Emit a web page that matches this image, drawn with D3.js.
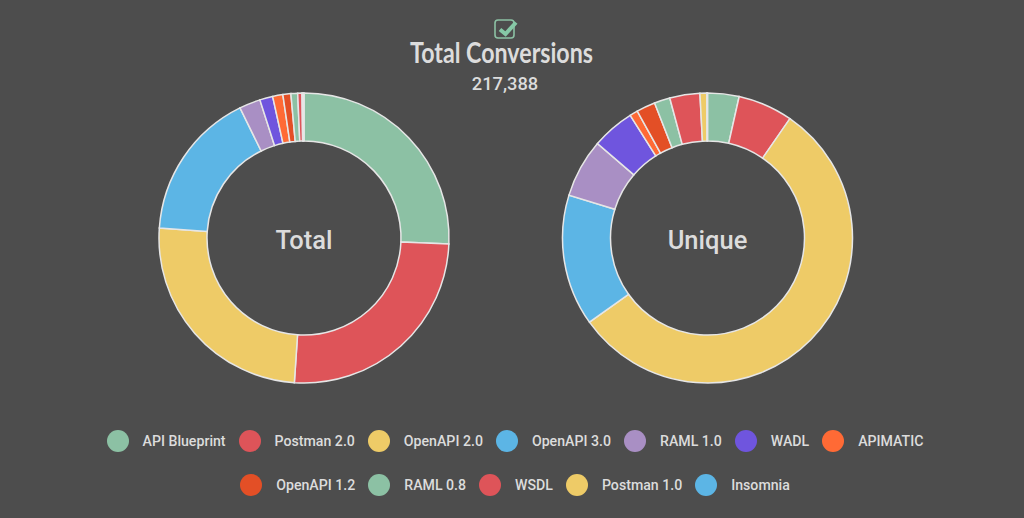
<!DOCTYPE html>
<html>
<head>
<meta charset="utf-8">
<script src="https://cdn.jsdelivr.net/npm/d3@7"></script>
<style>
  html, body { margin: 0; padding: 0; background: #4d4d4d; overflow: hidden; }
  #chart { position: absolute; left: 0; top: 0; }
  text { font-family: Roboto, sans-serif; fill: #dcdcdc; }
  #legend {
    position: absolute; left: 85px; top: 419px; width: 860px;
    display: flex; flex-wrap: wrap; justify-content: center;
    font: 500 14.15px Roboto, sans-serif; color: #dcdcdc;
  }
  .item { display: flex; align-items: center; height: 44px; margin: 0 6.5px; }
  .dot { width: 22px; height: 22px; border-radius: 50%; margin-right: 14px; }
</style>
</head>
<body>
<svg id="chart" width="1024" height="518"></svg>
<div id="legend"></div>
<script>
const formats = ["API Blueprint", "Postman 2.0", "OpenAPI 2.0", "OpenAPI 3.0", "RAML 1.0", "WADL", "APIMATIC", "OpenAPI 1.2", "RAML 0.8", "WSDL", "Postman 1.0", "Insomnia"]
const colors = ["#8cc1a4", "#de5459", "#eecb67", "#5cb5e5", "#a98fc4", "#6f55de", "#ff6a35", "#e34f26", "#8cc1a4", "#de5459", "#eecb67", "#5cb5e5"]
const totalValues = [55800, 55200, 54400, 36170, 5130, 3140, 2480, 1930, 1630, 1030, 238, 240]
const uniqueValues = [3.5, 6.1, 55.4, 14.6, 6.5, 4.75, 0.9, 2.1, 1.75, 3.35, 0.75, 0.08]
const titleText = "Total Conversions"
const totalLabel = "217,388"

const svg = d3.select("#chart")

// header
const check = svg.append("g").attr("transform", "translate(494,19)")
check.append("rect")
  .attr("x", 1).attr("y", 1).attr("width", 19).attr("height", 18).attr("rx", 3)
  .attr("fill", "none").attr("stroke", "#8cc1a4").attr("stroke-width", 1.6)
check.append("path")
  .attr("d", "M6 10.5 L11.5 15 L22 3.5")
  .attr("fill", "none").attr("stroke", "#86c8a6").attr("stroke-width", 4)

svg.append("text")
  .attr("x", 501.5).attr("y", 63)
  .attr("text-anchor", "middle")
  .attr("textLength", 183)
  .attr("lengthAdjust", "spacingAndGlyphs")
  .style("font-family", "Lato, sans-serif")
  .style("font-weight", 700)
  .style("font-size", "29px")
  .text(titleText)

svg.append("text")
  .attr("x", 505).attr("y", 90)
  .attr("text-anchor", "middle")
  .style("font-weight", 500)
  .style("font-size", "18.3px")
  .text(totalLabel)

// donuts
const pie = d3.pie().sort(null)
const arc = d3.arc().innerRadius(97).outerRadius(145)

function drawDonut(values, cx, label) {
  const g = svg.append("g").attr("transform", "translate(" + cx + ",238)")
  g.selectAll("path")
    .data(pie(values))
    .enter()
    .append("path")
      .attr("d", arc)
      .attr("fill", (d, i) => colors[i])
      .attr("stroke", "#e6e6e6")
      .attr("stroke-width", 1.5)
  g.append("text")
    .attr("y", 11)
    .attr("text-anchor", "middle")
    .style("font-weight", 500)
    .style("font-size", "25.5px")
    .text(label)
}

drawDonut(totalValues, 304, "Total")
drawDonut(uniqueValues, 707.5, "Unique")

// legend
const items = d3.select("#legend").selectAll(".item")
  .data(formats)
  .enter()
  .append("div")
  .attr("class", "item")
items.append("div")
  .attr("class", "dot")
  .style("background", (d, i) => colors[i])
items.append("span").text(d => d)
</script>
</body>
</html>
